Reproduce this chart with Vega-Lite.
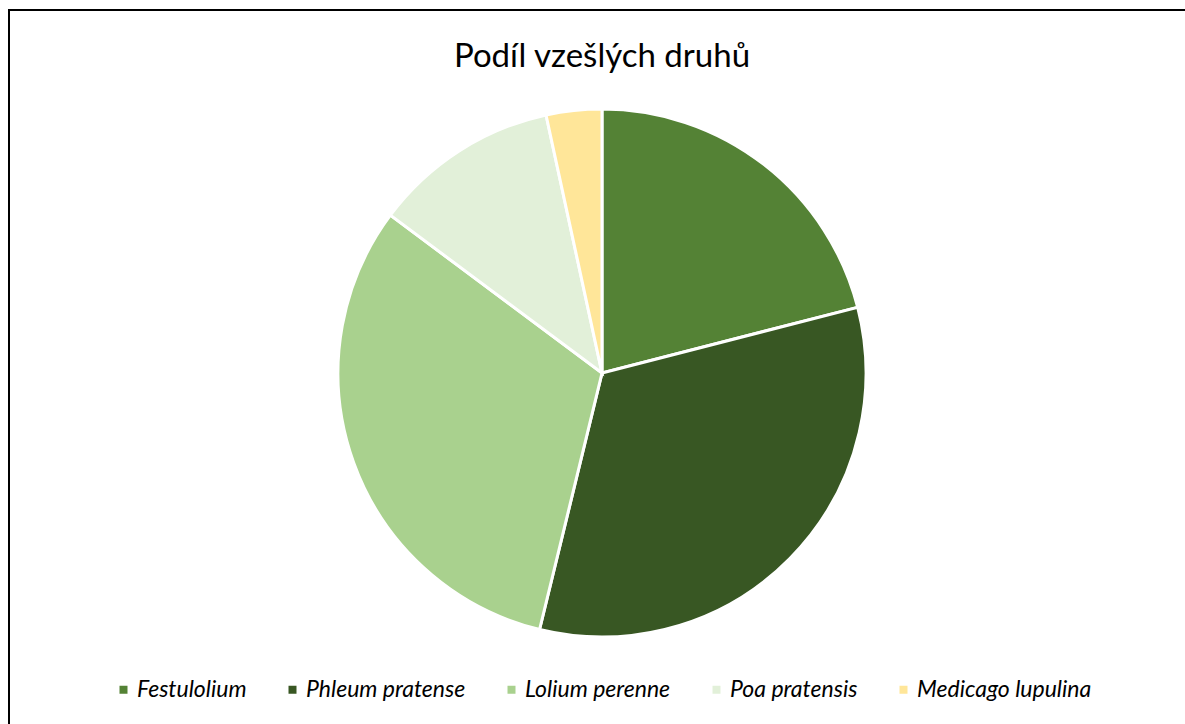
{
  "$schema": "https://vega.github.io/schema/vega-lite/v6.json",
  "width": 1186,
  "height": 726,
  "autosize": {"type": "none"},
  "padding": {"left": 9, "top": 10, "right": 0, "bottom": 0},
  "background": "white",
  "view": {"stroke": "black", "strokeWidth": 2, "fill": "white"},
  "config": {"view": {"stroke": "black", "strokeWidth": 2}},
  "title": {
    "text": "Podíl vzešlých druhů",
    "font": "Lato",
    "fontSize": 33,
    "fontWeight": "normal",
    "color": "black",
    "anchor": "middle",
    "frame": "group",
    "baseline": "alphabetic",
    "offset": -90
  },
  "data": {
    "values": [
      {"druh": "Festulolium", "podil": 21.0, "poradi": 1},
      {"druh": "Phleum pratense", "podil": 32.8, "poradi": 2},
      {"druh": "Lolium perenne", "podil": 31.4, "poradi": 3},
      {"druh": "Poa pratensis", "podil": 11.4, "poradi": 4},
      {"druh": "Medicago lupulina", "podil": 3.4, "poradi": 5}
    ]
  },
  "mark": {"type": "arc", "outerRadius": 264, "stroke": "white", "strokeWidth": 3},
  "encoding": {
    "theta": {"field": "podil", "type": "quantitative", "stack": true},
    "order": {"field": "poradi", "type": "quantitative"},
    "color": {
      "field": "druh",
      "type": "nominal",
      "scale": {
        "domain": ["Festulolium", "Phleum pratense", "Lolium perenne", "Poa pratensis", "Medicago lupulina"],
        "range": ["#548235", "#385723", "#A9D18E", "#E2F0D9", "#FFE699"]
      },
      "legend": {
        "title": null,
        "orient": "none",
        "direction": "horizontal",
        "columns": 5,
        "legendX": 103,
        "legendY": 668,
        "symbolType": "square",
        "symbolSize": 64,
        "symbolStrokeWidth": 0,
        "labelFont": "Lato",
        "labelFontStyle": "italic",
        "labelFontSize": 23,
        "labelColor": "black",
        "labelOffset": 2,
        "columnPadding": 34,
        "labelLimit": 400
      }
    }
  }
}
